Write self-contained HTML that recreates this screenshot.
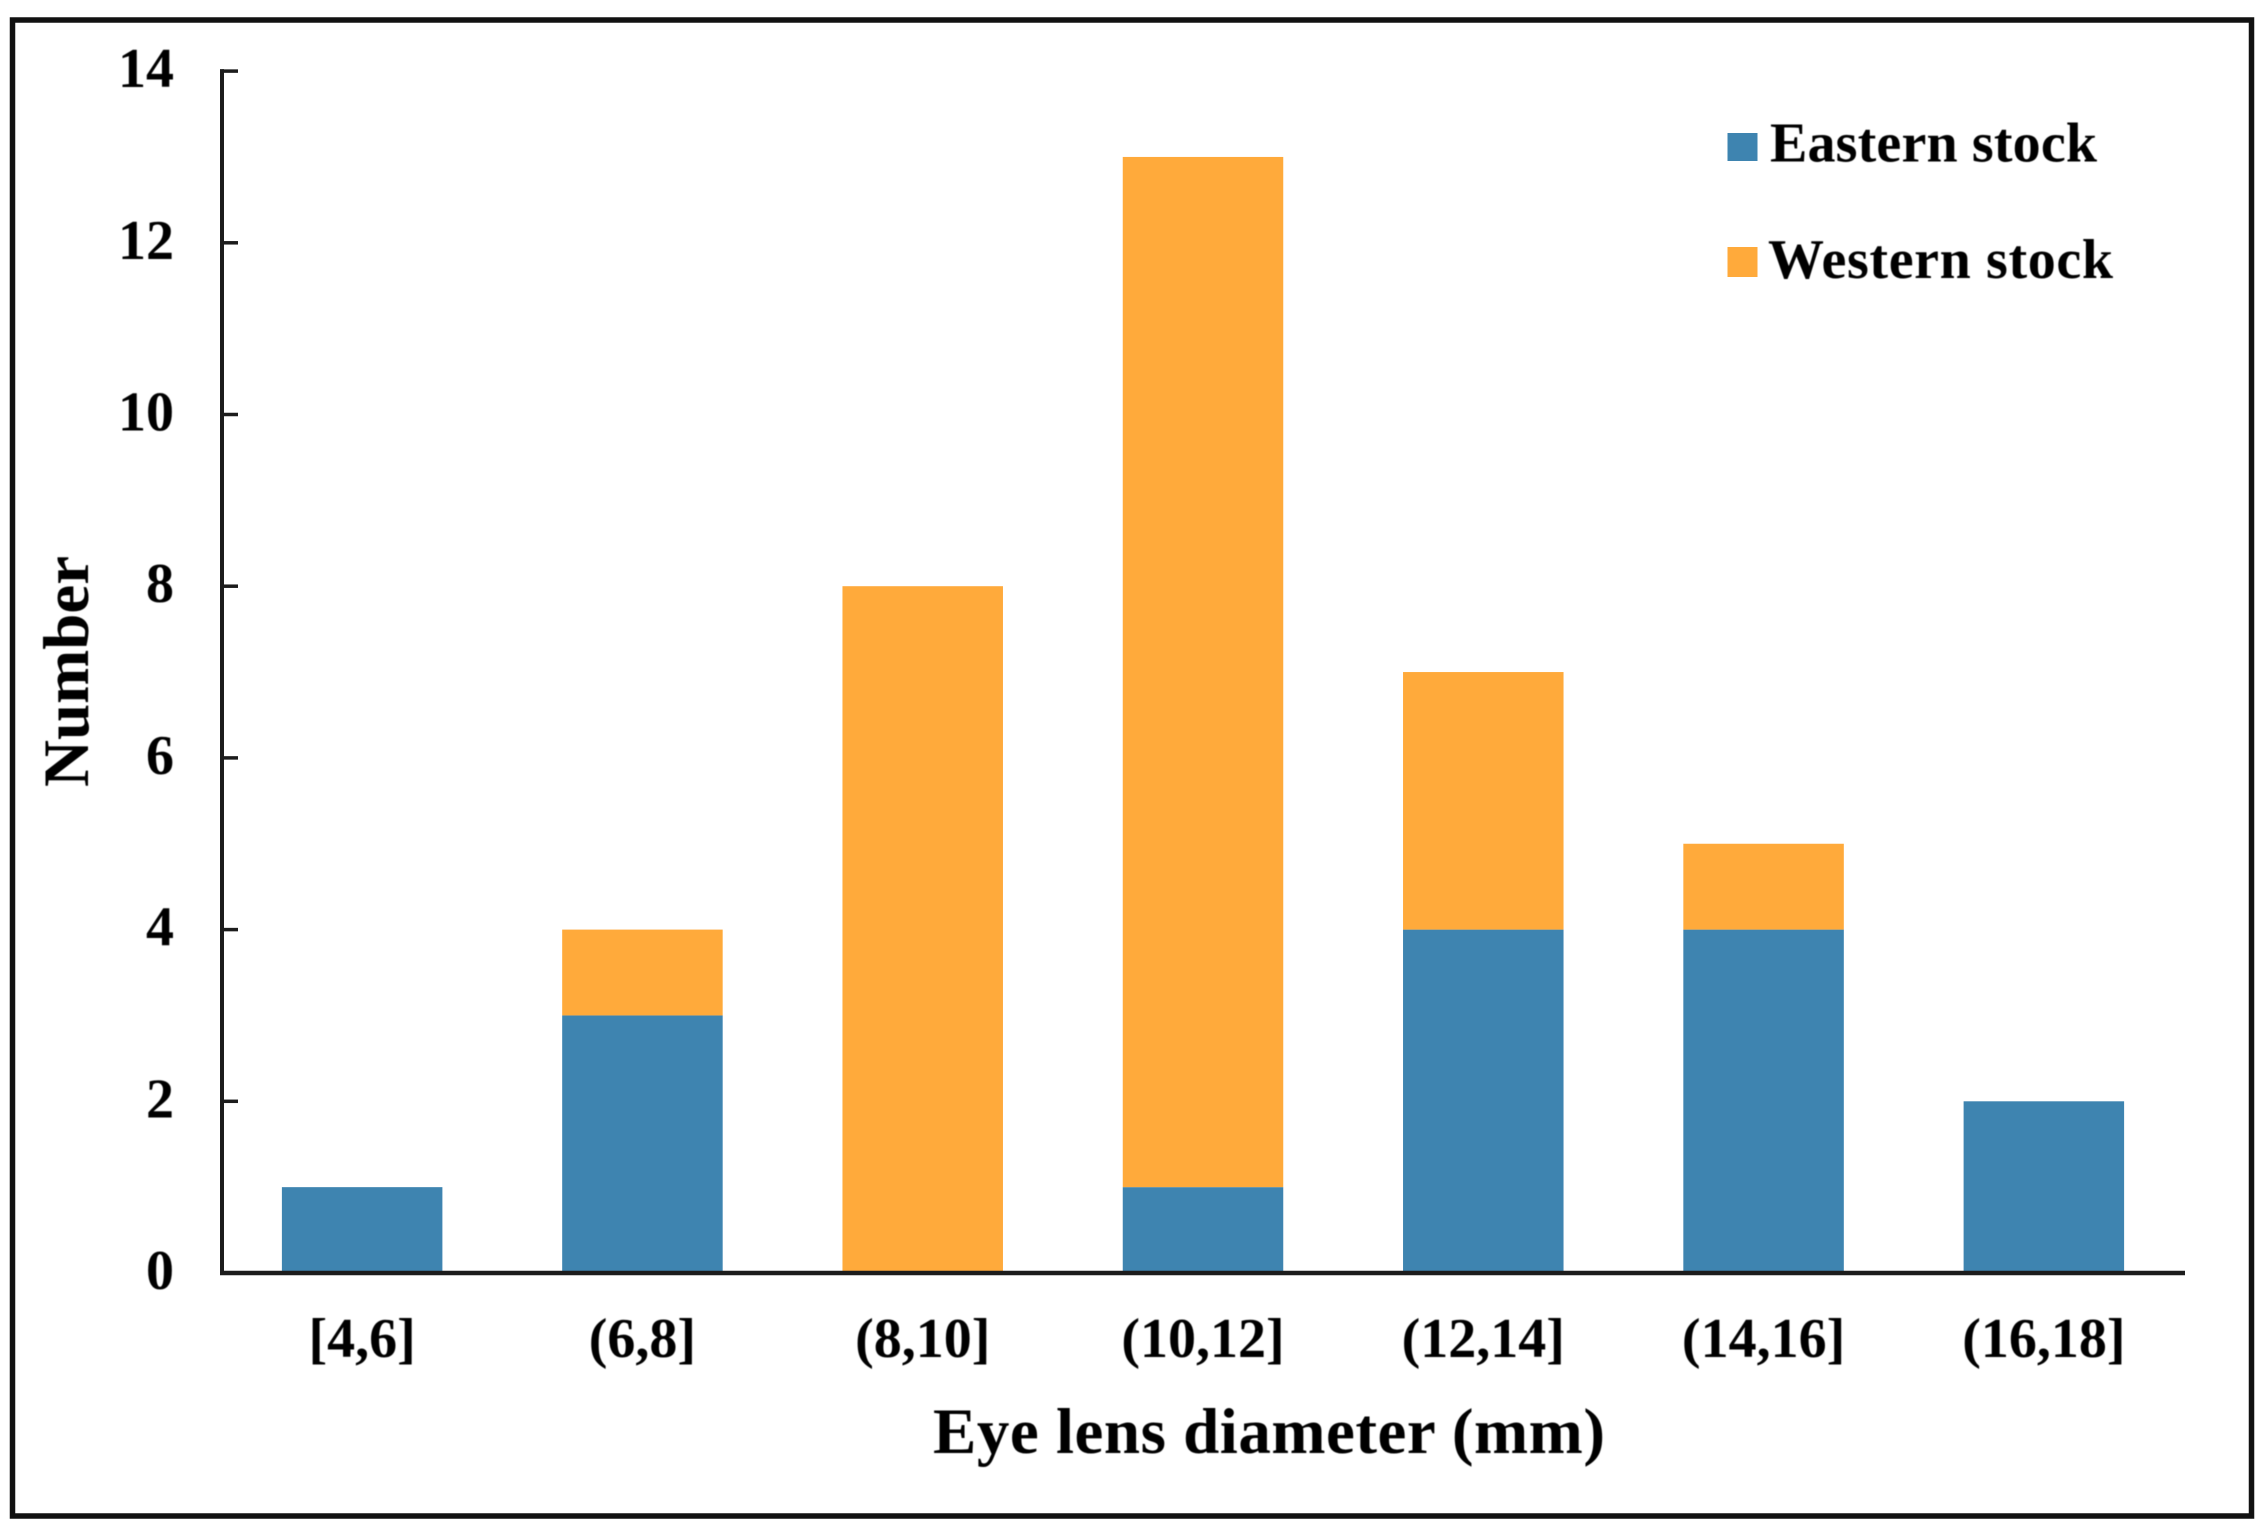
<!DOCTYPE html>
<html lang="en">
<head>
<meta charset="utf-8">
<title>Eye lens diameter by stock</title>
<style>
  html, body { margin: 0; padding: 0; background: #ffffff; }
  svg { display: block; }
  text {
    font-family: "Liberation Serif", serif;
    font-weight: bold;
    fill: #000000;
    filter: blur(0.45px);
  }
</style>
</head>
<body>
<svg id="chart" xmlns="http://www.w3.org/2000/svg" width="2268" height="1531" viewBox="0 0 2268 1531">
  <rect x="0" y="0" width="2268" height="1531" fill="#ffffff"/>
  <rect x="12.5" y="20" width="2239" height="1496" fill="none" stroke="#111111" stroke-width="5.5"/>
  <g id="bars"></g>
  <g id="y-axis"></g>
  <g id="x-axis"></g>
  <text transform="translate(88 787) rotate(-90)" font-size="65">Number</text>
  <text x="933" y="1453" font-size="65" textLength="672" lengthAdjust="spacing">Eye lens diameter (mm)</text>
  <g>
    <g>
      <rect x="1727.5" y="133" width="30" height="28" fill="#3e84b0"/>
      <text x="1770" y="161.5" font-size="56" textLength="327" lengthAdjust="spacing">Eastern stock</text>
    </g>
    <g>
      <rect x="1727.5" y="247" width="30" height="30" fill="#ffaa3b"/>
      <text x="1768" y="278" font-size="56" textLength="345" lengthAdjust="spacing">Western stock</text>
    </g>
  </g>
</svg>
<script>
const categories = ["[4,6]", "(6,8]", "(8,10]", "(10,12]", "(12,14]", "(14,16]", "(16,18]"];
const easternStock = [1, 3, 0, 1, 4, 4, 2];
const westernStock = [0, 1, 8, 12, 3, 1, 0];
const yTickLabels = ["0", "2", "4", "6", "8", "10", "12", "14"];

const SVG_NS = "http://www.w3.org/2000/svg";
const plot = { left: 222, right: 2184, axisEnd: 2185, zeroY: 1273, unit: 85.85, barWidth: 160.5 };
const axisColor = "#1c1c1c";
const easternColor = "#3e84b0";
const westernColor = "#ffaa3b";

function yScale(value) {
  return plot.zeroY - value * plot.unit;
}
function xCenter(index) {
  return plot.left + (plot.right - plot.left) * (index + 0.5) / categories.length;
}
function make(tag, attrs, parent) {
  const el = document.createElementNS(SVG_NS, tag);
  for (const key in attrs) {
    el.setAttribute(key, attrs[key]);
  }
  parent.appendChild(el);
  return el;
}

const barsGroup = document.getElementById("bars");
categories.forEach(function (cat, i) {
  const x = xCenter(i) - plot.barWidth / 2;
  const eastTop = yScale(easternStock[i]);
  const westTop = yScale(easternStock[i] + westernStock[i]);

  const east = make("rect", { x: x, y: eastTop, width: plot.barWidth, height: plot.zeroY - eastTop, fill: easternColor }, barsGroup);
  
  

  const west = make("rect", { x: x, y: westTop, width: plot.barWidth, height: eastTop - westTop, fill: westernColor }, barsGroup);
  
  
});

const yAxisGroup = document.getElementById("y-axis");
const yLine = make("line", { x1: plot.left, x2: plot.left, y1: yScale(14) - 2, y2: plot.zeroY + 2, stroke: axisColor, "stroke-width": 4 }, yAxisGroup);



yTickLabels.forEach(function (label) {
  const value = Number(label);
  const y = yScale(value);

  const tick = make("line", { x1: plot.left, x2: plot.left + 16, y1: y, y2: y, stroke: axisColor, "stroke-width": 3.5 }, yAxisGroup);
  
  

  const text = make("text", { x: 174, y: y + 16, "text-anchor": "end", "font-size": 56 }, yAxisGroup);
  
  
  text.textContent = label;
});

const xAxisGroup = document.getElementById("x-axis");
const xLine = make("line", { x1: plot.left - 2, x2: plot.axisEnd, y1: plot.zeroY, y2: plot.zeroY, stroke: axisColor, "stroke-width": 4.5 }, xAxisGroup);



categories.forEach(function (cat, i) {
  const text = make("text", { x: xCenter(i), y: 1357, "text-anchor": "middle", "font-size": 56 }, xAxisGroup);
  
  
  text.textContent = cat;
});
</script>
</body>
</html>
